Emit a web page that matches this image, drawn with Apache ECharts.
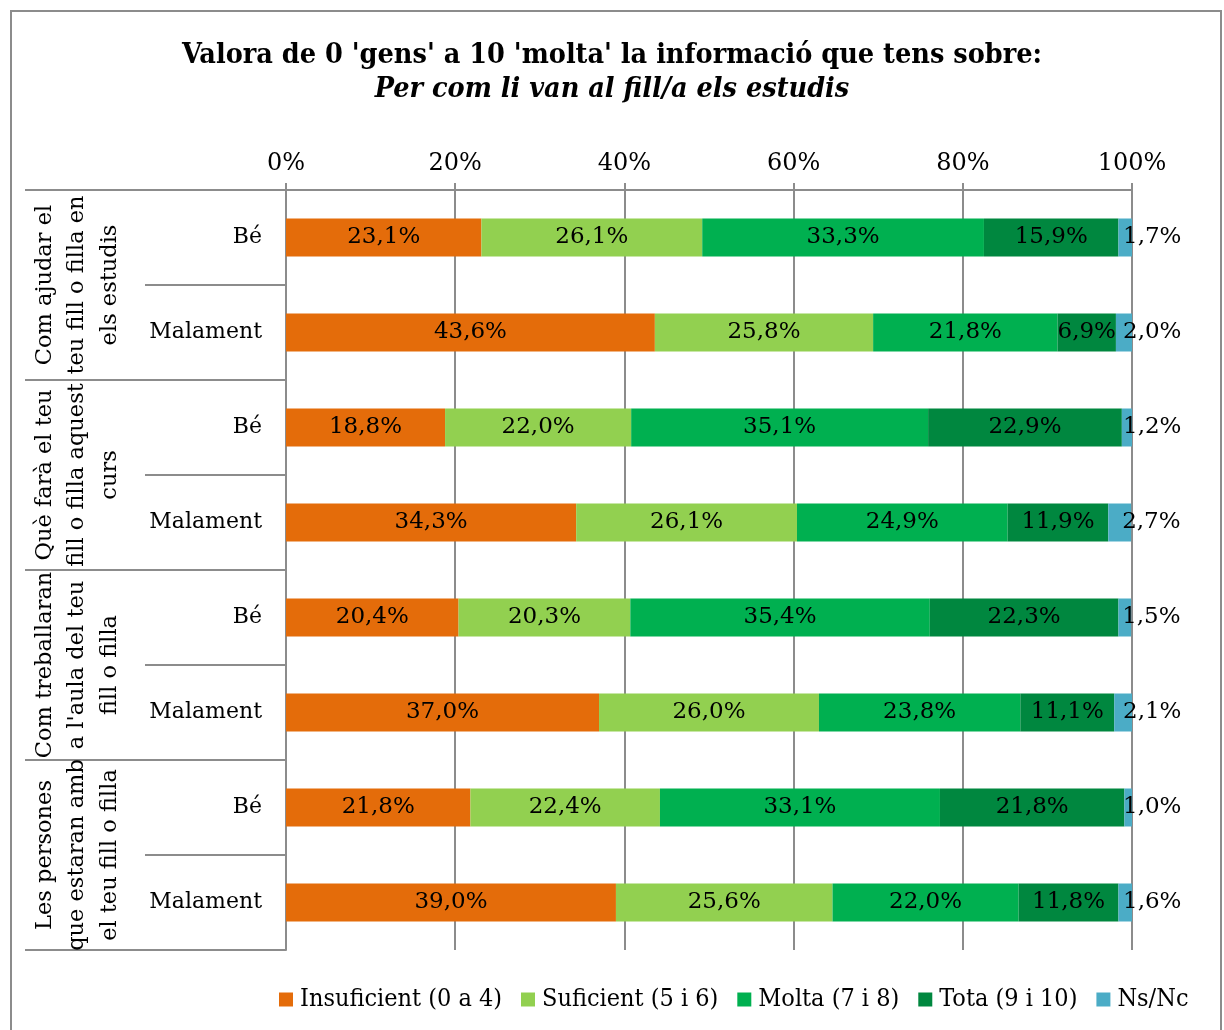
<!DOCTYPE html>
<html>
<head>
<meta charset="utf-8">
<title>Valora de 0 a 10 la informació</title>
<script src="https://cdn.jsdelivr.net/npm/echarts@6/dist/echarts.min.js"></script>
<style>
  html, body { margin: 0; padding: 0; background: #fff; }
  #frame {
    position: absolute; left: 10px; top: 10px; width: 1212px; height: 1030px;
    border-left: 2px solid #8c8c8c; border-top: 2px solid #8c8c8c; border-right: 2px solid #8c8c8c;
    box-sizing: border-box;
  }
  #chart { position: absolute; left: 0; top: 0; width: 1224px; height: 1030px; }
</style>
</head>
<body>
<div id="frame"></div>
<div id="chart"></div>
<script>
// categories (top to bottom)
const groups = [
  'Com ajudar el\nteu fill o filla en\nels estudis',
  'Què farà el teu\nfill o filla aquest\ncurs',
  'Com treballaran\na l\'aula del teu\nfill o filla',
  'Les persones\nque estaran amb\nel teu fill o filla'
]
const rows = ['Bé', 'Malament', 'Bé', 'Malament', 'Bé', 'Malament', 'Bé', 'Malament']
const xTicks = [0, 20, 40, 60, 80, 100]

// series values (%)
const insuficient = [23.1, 43.6, 18.8, 34.3, 20.4, 37.0, 21.8, 39.0]
const suficient = [26.1, 25.8, 22.0, 26.1, 20.3, 26.0, 22.4, 25.6]
const molta = [33.3, 21.8, 35.1, 24.9, 35.4, 23.8, 33.1, 22.0]
const tota = [15.9, 6.9, 22.9, 11.9, 22.3, 11.1, 21.8, 11.8]
const nsnc = [1.7, 2.0, 1.2, 2.7, 1.5, 2.1, 1.0, 1.6]

const serif = '"DejaVu Serif", "Liberation Serif", serif'
const serifCond = '"DejaVu Serif Condensed", "Liberation Serif", serif'
const gray = '#8c8c8c'

const fmt = (p) => p.value.toFixed(1).replace('.', ',') + '%'

const makeSeries = (name, data, color, small) => ({
  name: name,
  type: 'bar',
  stack: 'total',
  barWidth: 38,
  data: data,
  itemStyle: {color: color},
  label: {
    show: true,
    position: small ? 'right' : 'inside',
    distance: small ? -9 : 5,
    formatter: fmt,
    color: '#000',
    fontFamily: serif,
    fontSize: 23
  }
})

const chart = echarts.init(document.getElementById('chart'))
chart.setOption({
  animation: false,
  title: {
    text: '{a|Valora de 0 \'gens\' a 10 \'molta\' la informació que tens sobre:}\n{b|Per com li van al fill/a els estudis}',
    left: 'center',
    top: 34,
    textStyle: {
      rich: {
        a: {fontFamily: serifCond, fontWeight: 'bold', fontSize: 28.5, lineHeight: 34, color: '#000'},
        b: {fontFamily: serifCond, fontWeight: 'bold', fontStyle: 'italic', fontSize: 28.5, lineHeight: 34, color: '#000'}
      }
    }
  },
  legend: {
    left: 274,
    top: 982,
    itemWidth: 14,
    itemHeight: 14,
    itemGap: 19,
    icon: 'rect',
    textStyle: {fontFamily: serifCond, fontSize: 25, color: '#000', padding: [0, 0, 0, 2]}
  },
  grid: {left: 286, right: 92, top: 190, bottom: 80},
  xAxis: {
    type: 'value',
    position: 'top',
    min: 0,
    max: 100,
    interval: 20,
    axisLine: {show: true, lineStyle: {color: gray, width: 2}},
    axisTick: {show: true, length: 7, lineStyle: {color: gray, width: 2}},
    splitLine: {show: true, lineStyle: {color: gray, width: 2}},
    axisLabel: {
      margin: 14,
      fontFamily: serif,
      fontSize: 24,
      color: '#000',
      formatter: (v) => xTicks.includes(v) ? v + '%' : ''
    }
  },
  yAxis: [
    {
      type: 'category',
      inverse: true,
      data: rows,
      axisLine: {show: true, lineStyle: {color: gray, width: 2}},
      axisTick: {show: true, length: 141, lineStyle: {color: gray, width: 2}},
      axisLabel: {margin: 24, fontFamily: serif, fontSize: 22, color: '#000', interval: 0}
    },
    {
      // group labels, rotated
      type: 'category',
      inverse: true,
      position: 'left',
      data: groups,
      axisLine: {show: false},
      axisTick: {show: true, length: 261, lineStyle: {color: gray, width: 2}},
      axisLabel: {
        margin: 160,
        rotate: 90,
        interval: 0,
        align: 'center',
        lineHeight: 32.5,
        fontFamily: serif,
        fontSize: 22.5,
        color: '#000'
      }
    }
  ],
  series: [
    makeSeries('Insuficient (0 a 4)', insuficient, '#E46C0A'),
    makeSeries('Suficient (5 i 6)', suficient, '#92D050'),
    makeSeries('Molta (7 i 8)', molta, '#00B050'),
    makeSeries('Tota (9 i 10)', tota, '#00873F'),
    makeSeries('Ns/Nc', nsnc, '#4BACC6', true)
  ]
})
</script>
</body>
</html>
